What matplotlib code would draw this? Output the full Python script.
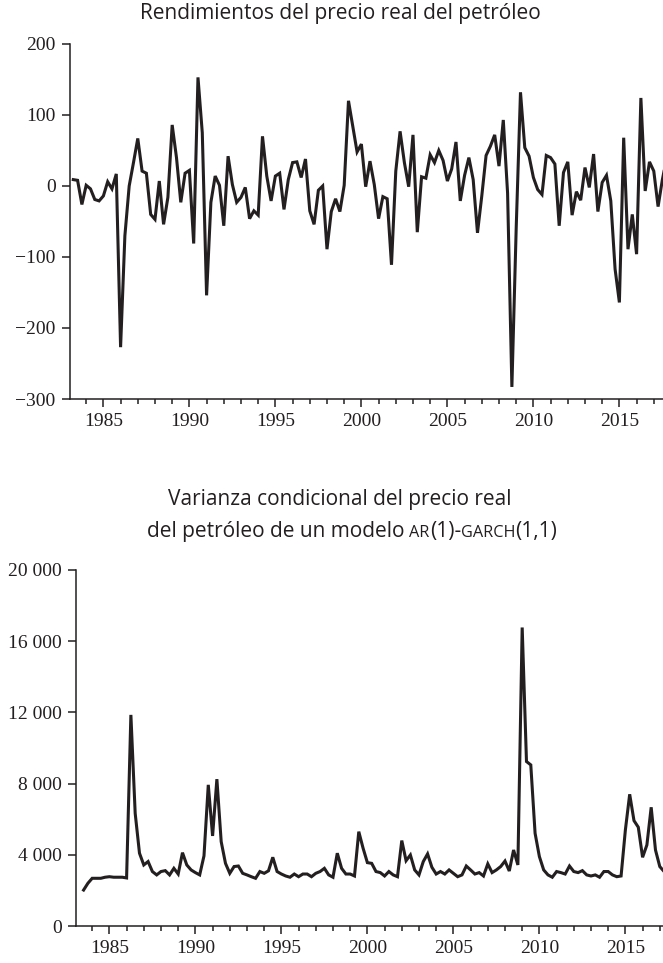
import matplotlib
matplotlib.use('Agg')
import matplotlib.pyplot as plt
import pandas as pd
from matplotlib.ticker import MultipleLocator, FuncFormatter

# ---------------- data ----------------
returns_start = '1983Q2'
returns = [9, 8, -26, 1, -4, -19, -21, -14, 6, -4, 17,
           -227, -70, 0, 33, 67, 21, 18, -40, -47,
           7, -54, -16, 86, 40, -23, 18, 22, -81, 153,
           75, -154, -23, 14, 1, -56, 42, 2, -23, -16,
           -2, -46, -35, -41, 70, 14, -21, 14, 18, -33,
           9, 33, 34, 12, 38, -35, -54, -6, 0, -89,
           -36, -18, -36, 1, 120, 84, 48, 59, -1, 35,
           2, -46, -15, -18, -111, 21, 77, 33, -1, 72,
           -65, 13, 11, 44, 33, 50, 36, 7, 24, 62,
           -21, 15, 40, 9, -66, -14, 43, 56, 72, 28,
           93, -10, -283, -60, 132, 54, 42, 12, -5, -12,
           43, 40, 31, -56, 19, 34, -41, -8, -20, 26,
           -2, 45, -36, 5, 15, -21, -117, -164, 68, -89,
           -40, -96, 124, -7, 34, 21, -29, 9, 40]

variance_start = '1983Q3'
variance = [2020, 2400, 2680, 2680, 2680, 2740, 2770, 2740, 2740, 2740, 2700,
            11860, 6330, 4090, 3430, 3620, 3060, 2870, 3060, 3110,
            2870, 3240, 2920, 4120, 3430, 3150, 3000, 2870, 3940, 7930,
            5060, 8250, 4740, 3520, 2960, 3340, 3370, 2960, 2870, 2770,
            2680, 3060, 2960, 3100, 3860, 3060, 2920, 2810, 2740, 2920,
            2770, 2920, 2920, 2770, 2960, 3060, 3240, 2870, 2740, 4090,
            3240, 2920, 2920, 2810, 5300, 4370, 3560, 3520, 3060, 3000,
            2810, 3060, 2870, 2770, 4800, 3670, 3990, 3150, 2870, 3620,
            4050, 3300, 2920, 3060, 2920, 3150, 2960, 2770, 2870, 3370,
            3150, 2920, 3000, 2810, 3490, 3000, 3150, 3340, 3650, 3090,
            4270, 3430, 16770, 9240, 9050, 5210, 3900, 3150, 2870, 2740,
            3060, 3000, 2920, 3370, 3060, 3000, 3110, 2870, 2810, 2870,
            2740, 3060, 3060, 2870, 2770, 2810, 5400, 7400, 5920, 5550,
            3860, 4550, 6670, 4270, 3340, 3060]

top_title = 'Rendimientos del precio real del petróleo'
bottom_title_1 = 'Varianza condicional del precio real'
bottom_title_2 = [('del petróleo de un modelo', 1.0), (' ', 1.0), ('AR', 0.78),
                  ('(1)-', 1.0), ('GARCH', 0.78), ('(1,1)', 1.0)]

top_yticks = [-300, -200, -100, 0, 100, 200]
bottom_yticks = [0, 4000, 8000, 12000, 16000, 20000]
year_ticks = [1985, 1990, 1995, 2000, 2005, 2010, 2015]


def to_year(start, n):
    p = pd.period_range(start, periods=n, freq='Q')
    return p.year + (p.quarter - 1) / 4.0


x_ret = to_year(returns_start, len(returns))
x_var = to_year(variance_start, len(variance))

# ---------------- style ----------------
INK = '#231f20'
SERIF = ['Liberation Serif', 'DejaVu Serif']
SANS = ['Open Sans', 'DejaVu Sans']
W, H = 663, 963

fig = plt.figure(figsize=(W / 100, H / 100), dpi=100)
fig.patch.set_facecolor('white')


def px_axes(left, top, right, bottom):
    return fig.add_axes([left / W, 1 - bottom / H, (right - left) / W, (bottom - top) / H])


def style_axes(ax):
    for s in ('top', 'right'):
        ax.spines[s].set_visible(False)
    for s in ('left', 'bottom'):
        ax.spines[s].set_linewidth(1.1)
        ax.spines[s].set_color(INK)
    ax.xaxis.set_major_locator(plt.FixedLocator(year_ticks))
    ax.xaxis.set_minor_locator(MultipleLocator(1))
    ax.tick_params(axis='both', which='major', direction='out', length=6,
                   width=1.1, color=INK, labelcolor=INK, labelsize=14, pad=4)
    ax.tick_params(axis='x', which='minor', direction='out', length=3.8,
                   width=1.1, color=INK)
    ax.tick_params(axis='y', which='minor', length=0)
    for lab in ax.get_xticklabels() + ax.get_yticklabels():
        lab.set_fontfamily(SERIF)


# top panel
ax1 = px_axes(69.5, 44, 663, 399)
ax1.plot(x_ret, returns, color=INK, lw=2.2, solid_joinstyle='miter', clip_on=True)
ax1.set_xlim(1983.03, 1983.03 + (663 - 69.5) / 17.2)
ax1.set_ylim(-300, 200)
ax1.set_yticks(top_yticks)
style_axes(ax1)

# bottom panel
ax2 = px_axes(75.5, 570, 663, 926)
ax2.plot(x_var, variance, color=INK, lw=2.2, solid_joinstyle='miter', clip_on=True)
ax2.set_xlim(1983.03, 1983.03 + (663 - 75.5) / 17.2)
ax2.set_ylim(0, 20000)
ax2.set_yticks(bottom_yticks)
ax2.yaxis.set_major_formatter(FuncFormatter(
    lambda v, p: f'{int(v):,}'.replace(',', ' ')))
style_axes(ax2)

# titles
TS = 15
fig.text(340 / W, 1 - 14 / H, top_title, ha='center', va='center',
         fontsize=TS, family=SANS, color=INK)
fig.text(340 / W, 1 - 499 / H, bottom_title_1, ha='center', va='center',
         fontsize=TS, family=SANS, color=INK)

renderer = fig.canvas.get_renderer()


def measure(s, size):
    t = fig.text(0, 0, s, fontsize=size, family=SANS)
    w = t.get_window_extent(renderer).width
    t.remove()
    return w


space_w = measure('a a', TS) - measure('aa', TS)
pieces = []
total = 0.0
for s, scale in bottom_title_2:
    size = TS * scale
    w = space_w if s == ' ' else measure(s, size)
    pieces.append((s, size, w))
    total += w
x0 = 352 - total / 2
y_base = 1 - 537 / H
for s, size, w in pieces:
    if s != ' ':
        fig.text(x0 / W, y_base, s, ha='left', va='baseline', fontsize=size,
                 family=SANS, color=INK)
    x0 += w

fig.savefig('out.png', dpi=100, facecolor='white')
